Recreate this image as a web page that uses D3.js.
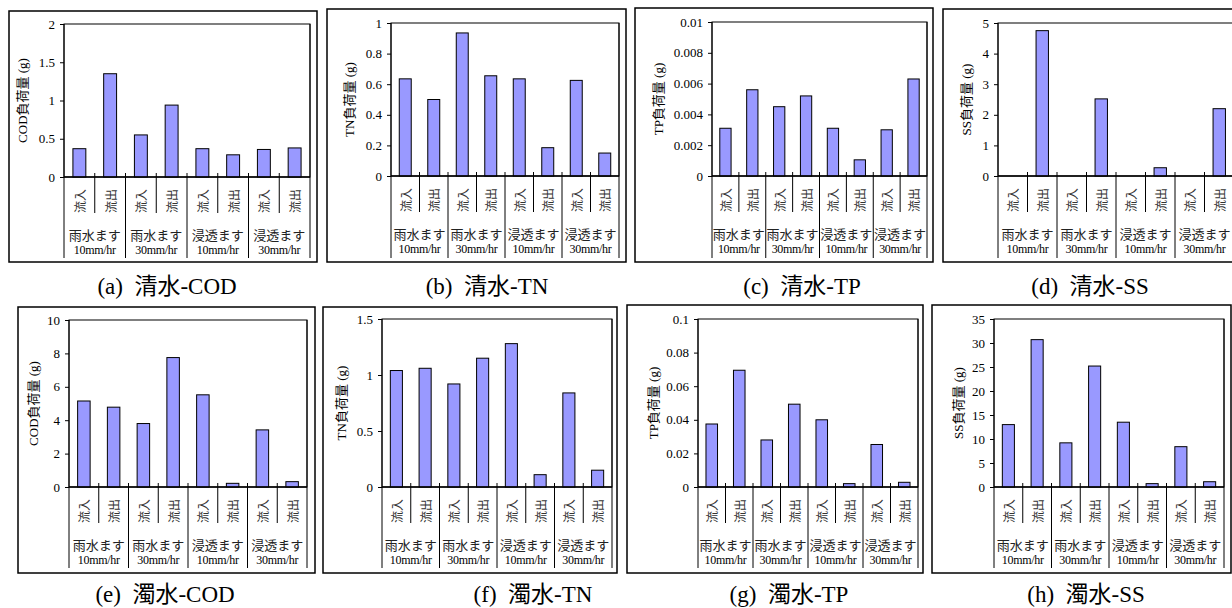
<!DOCTYPE html>
<html>
<head>
<meta charset="utf-8">
<script src="https://cdn.jsdelivr.net/npm/d3@7"></script>
<style>
  body { margin: 0; background: #fff; }
  svg { display: block; }
  text { font-family: "Liberation Serif", "Noto Sans CJK JP", serif; fill: #000; }
</style>
</head>
<body>
<div id="chart"></div>
<script>
// categories
const flowLabels = ["流入", "流出", "流入", "流出", "流入", "流出", "流入", "流出"];
const groupNames = ["雨水ます", "雨水ます", "浸透ます", "浸透ます"];
const groupRates = ["10mm/hr", "30mm/hr", "10mm/hr", "30mm/hr"];

// 清水 (clear water) loads, g
const clearCOD = [0.37, 1.35, 0.55, 0.94, 0.37, 0.29, 0.36, 0.38];
const clearTN = [0.635, 0.50, 0.935, 0.655, 0.635, 0.185, 0.625, 0.15];
const clearTP = [0.0031, 0.0056, 0.0045, 0.0052, 0.0031, 0.00105, 0.0030, 0.0063];
const clearSS = [0, 4.75, 0, 2.52, 0, 0.27, 0, 2.2];

// 濁水 (turbid water) loads, g
const turbidCOD = [5.15, 4.78, 3.8, 7.75, 5.52, 0.22, 3.42, 0.32];
const turbidTN = [1.04, 1.06, 0.92, 1.15, 1.28, 0.11, 0.84, 0.15];
const turbidTP = [0.0375, 0.0695, 0.028, 0.0493, 0.040, 0.002, 0.0253, 0.0028];
const turbidSS = [13.0, 30.7, 9.2, 25.2, 13.5, 0.7, 8.4, 1.1];

// tick labels
const ticksClearCOD = [0, 0.5, 1, 1.5, 2];
const ticksClearTN = [0, 0.2, 0.4, 0.6, 0.8, 1];
const ticksClearTP = [0, 0.002, 0.004, 0.006, 0.008, 0.01];
const ticksClearSS = [0, 1, 2, 3, 4, 5];
const ticksTurbidCOD = [0, 2, 4, 6, 8, 10];
const ticksTurbidTN = [0, 0.5, 1, 1.5];
const ticksTurbidTP = [0, 0.02, 0.04, 0.06, 0.08, 0.1];
const ticksTurbidSS = [0, 5, 10, 15, 20, 25, 30, 35];

const yTitles = ["COD負荷量 (g)", "TN負荷量 (g)", "TP負荷量 (g)", "SS負荷量 (g)"];
const captions = ["(a)  清水-COD", "(b)  清水-TN", "(c)  清水-TP", "(d)  清水-SS",
                  "(e)  濁水-COD", "(f)  濁水-TN", "(g)  濁水-TP", "(h)  濁水-SS"];

const width = 1232, height = 608;

// panel layout: outer frame, plot area, label bottom, y title x, caption pos
const panels = [
  { values: clearCOD, ticks: ticksClearCOD, title: yTitles[0], caption: captions[0],
    box: [9, 11, 317, 262], plot: [64, 24, 310, 177], labelBottom: 258, titleX: 22, capX: 167, capY: 294 },
  { values: clearTN, ticks: ticksClearTN, title: yTitles[1], caption: captions[1],
    box: [327, 9, 626, 262], plot: [391, 23, 619, 176], labelBottom: 258, titleX: 349, capX: 487, capY: 294 },
  { values: clearTP, ticks: ticksClearTP, title: yTitles[2], caption: captions[2],
    box: [635, 8, 933, 262], plot: [712, 22, 927, 176], labelBottom: 258, titleX: 658, capX: 802, capY: 294 },
  { values: clearSS, ticks: ticksClearSS, title: yTitles[3], caption: captions[3],
    box: [943, 9, 1250, 262], plot: [998, 23, 1234, 176], labelBottom: 258, titleX: 966, capX: 1090, capY: 294 },
  { values: turbidCOD, ticks: ticksTurbidCOD, title: yTitles[0], caption: captions[4],
    box: [18, 307, 315, 573], plot: [69, 320, 307, 487], labelBottom: 568, titleX: 33, capX: 165, capY: 602 },
  { values: turbidTN, ticks: ticksTurbidTN, title: yTitles[1], caption: captions[5],
    box: [323, 307, 617, 573], plot: [382, 319, 612, 487], labelBottom: 568, titleX: 341, capX: 533, capY: 602 },
  { values: turbidTP, ticks: ticksTurbidTP, title: yTitles[2], caption: captions[6],
    box: [627, 305, 923, 573], plot: [698, 319, 918, 487], labelBottom: 568, titleX: 653, capX: 789, capY: 602 },
  { values: turbidSS, ticks: ticksTurbidSS, title: yTitles[3], caption: captions[7],
    box: [932, 305, 1231, 573], plot: [994, 319, 1224, 487], labelBottom: 568, titleX: 958, capX: 1086, capY: 602 }
];

const svg = d3.select("#chart").append("svg")
  .attr("width", width)
  .attr("height", height);

panels.forEach(p => drawPanel(p));

function drawPanel(p) {
  const g = svg.append("g");
  const [bx0, by0, bx1, by1] = p.box;
  const [left, top, right, zero] = p.plot;

  // outer frame
  g.append("rect")
    .attr("x", bx0).attr("y", by0)
    .attr("width", bx1 - bx0).attr("height", by1 - by0)
    .attr("fill", "none").attr("stroke", "#000").attr("stroke-width", 1.5);

  const x = d3.scaleBand()
    .domain(d3.range(p.values.length))
    .range([left, right])
    .paddingInner(0.58)
    .paddingOuter(0.29);
  const step = x.step();

  const y = d3.scaleLinear()
    .domain([0, d3.max(p.ticks)])
    .range([zero, top]);

  // plot area border
  g.append("rect")
    .attr("x", left).attr("y", top)
    .attr("width", right - left).attr("height", zero - top)
    .attr("fill", "none").attr("stroke", "#000").attr("stroke-width", 1);

  // bars
  g.selectAll("rect.bar")
    .data(p.values)
    .enter()
    .append("rect")
    .attr("class", "bar")
    .attr("x", (d, i) => x(i))
    .attr("width", x.bandwidth())
    .attr("y", d => y(d))
    .attr("height", d => zero - y(d))
    .attr("fill", "#9999ff")
    .attr("stroke", "#000")
    .attr("stroke-width", d => d > 0 ? 1 : 0);

  // y axis
  const yAxis = d3.axisLeft(y)
    .tickValues(p.ticks)
    .tickSize(4)
    .tickPadding(5)
    .tickFormat(d => String(+d.toFixed(4)));
  const ag = g.append("g")
    .attr("transform", "translate(" + left + ",0)")
    .call(yAxis);
  ag.select(".domain").remove();
  ag.selectAll("line").attr("stroke", "#000");
  ag.selectAll("text")
    .style("font-family", "'Liberation Serif', serif")
    .style("font-size", "13px");

  // left / right lines through the label area
  [left, right].forEach(xx => {
    g.append("line")
      .attr("x1", xx).attr("x2", xx)
      .attr("y1", top).attr("y2", p.labelBottom)
      .attr("stroke", "#000").attr("stroke-width", 1);
  });

  // category separators
  d3.range(1, p.values.length).forEach(k => {
    const xx = left + k * step;
    const isGroup = k % 2 === 0;
    g.append("line")
      .attr("x1", xx).attr("x2", xx)
      .attr("y1", zero - 4)
      .attr("y2", isGroup ? p.labelBottom : zero + 36)
      .attr("stroke", "#000").attr("stroke-width", 1);
  });

  // zero line
  g.append("line")
    .attr("x1", left).attr("x2", right)
    .attr("y1", zero).attr("y2", zero)
    .attr("stroke", "#000").attr("stroke-width", 1.5);

  // flow labels, rotated
  g.selectAll("text.flow")
    .data(flowLabels)
    .enter()
    .append("text")
    .attr("class", "flow")
    .attr("transform", (d, i) => "translate(" + (x(i) + x.bandwidth() / 2) + "," + (zero + 24) + ") rotate(-90)")
    .attr("text-anchor", "middle")
    .attr("dominant-baseline", "central")
    .style("font-family", "'Noto Sans CJK JP', sans-serif")
    .style("font-size", "12px")
    .style("fill", "#333")
    .text(d => d);

  // group labels
  groupNames.forEach((name, k) => {
    const cx = left + (2 * k + 1) * step;
    g.append("text")
      .attr("x", cx).attr("y", zero + 57)
      .attr("text-anchor", "middle")
      .attr("dominant-baseline", "central")
      .style("font-family", "'Noto Sans CJK JP', sans-serif")
      .style("font-size", "13px")
      .style("fill", "#222")
      .text(name);
    g.append("text")
      .attr("x", cx).attr("y", zero + 73)
      .attr("text-anchor", "middle")
      .attr("dominant-baseline", "central")
      .style("font-size", "12px")
      .style("letter-spacing", "-0.3px")
      .text(groupRates[k]);
  });

  // y title
  g.append("text")
    .attr("transform", "translate(" + p.titleX + "," + ((top + zero) / 2) + ") rotate(-90)")
    .attr("text-anchor", "middle")
    .attr("dominant-baseline", "central")
    .style("font-size", "13px")
    .text(p.title);

  // caption
  g.append("text")
    .attr("x", p.capX).attr("y", p.capY)
    .attr("text-anchor", "middle")
    .style("font-size", "23px")
    .style("white-space", "pre")
    .text(p.caption);
}
</script>
</body>
</html>
